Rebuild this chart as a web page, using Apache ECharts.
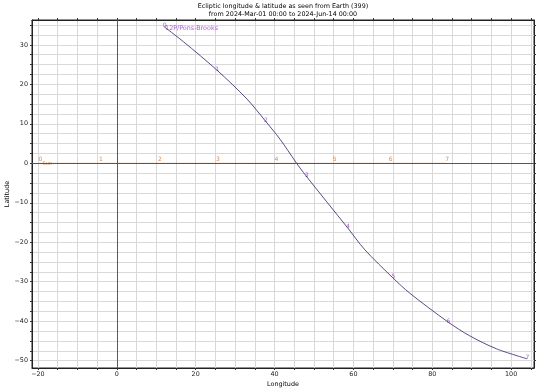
<!DOCTYPE html>
<html>
<head>
<meta charset="utf-8">
<script src="https://cdn.jsdelivr.net/npm/echarts@6/dist/echarts.min.js"></script>
<style>html,body{margin:0;padding:0;background:#fff}#c{width:540px;height:391px}</style>
</head>
<body>
<div id="c"></div>
<script>
// Comet 12P/Pons-Brooks path: [longitude, latitude]
const cometPath = [
  [12.0, 34.6], [16.9, 30.8], [25.4, 23.6], [33.0, 16.3], [37.7, 10.7],
  [41.4, 6.1], [45.4, 0.3], [48.0, -3.2], [58.5, -16.3], [62.9, -21.9],
  [70.0, -29.0], [74.3, -32.9], [84.0, -40.2], [89.5, -43.7], [96.3, -47.0],
  [104.0, -49.5]
];
// Labelled (every 15 days) comet positions: [longitude, latitude, label]
const cometMarks = [
  [12.0, 34.6, '0'], [25.4, 23.6, '1'], [37.7, 10.7, '2'], [48.0, -3.2, '3'],
  [58.5, -16.3, '4'], [70.0, -29.0, '5'], [84.0, -40.2, '6'], [104.0, -49.5, '7']
];
// Sun longitudes at the same dates (latitude 0)
const sunLon = [-19.6, -4.3, 10.7, 25.4, 40.2, 55.0, 69.2, 83.5];
const sunLabels = ['0', '1', '2', '3', '4', '5', '6', '7'];
// Axis ticks
const xMajor = [-20, 0, 20, 40, 60, 80, 100];
const xMinor = [-20, -15, -10, -5, 0, 5, 10, 15, 20, 25, 30, 35, 40, 45, 50, 55, 60, 65, 70, 75, 80, 85, 90, 95, 100, 105];
const yMajor = [-50, -40, -30, -20, -10, 0, 10, 20, 30];
const yMinor = [-50, -47.5, -45, -42.5, -40, -37.5, -35, -32.5, -30, -27.5, -25, -22.5, -20, -17.5, -15, -12.5, -10, -7.5, -5, -2.5, 0, 2.5, 5, 7.5, 10, 12.5, 15, 17.5, 20, 22.5, 25, 27.5, 30, 32.5, 35];

const FONT = 'DejaVu Sans';
const FS = 6.4;
const chart = echarts.init(document.getElementById('c'));
const sunData = sunLon.map((v, i) => [v, 0, sunLabels[i]]);
const XR = [-21.5, 105.8], YR = [-51.85, 36.3];
const minus = v => String(v).replace('-', '\u2212');

function sideAxis(pos, min, max, ticks) {
  return {
    type: 'value', position: pos, min: min, max: max,
    axisLine: {show: true, onZero: false, lineStyle: {color: '#222'}},
    axisTick: {show: true, length: 2, customValues: ticks, lineStyle: {color: '#333'}},
    axisLabel: {show: false}, splitLine: {show: false}
  };
}

chart.setOption({
  animation: false,
  textStyle: {fontFamily: FONT},
  title: {
    text: 'Ecliptic longitude & latitude as seen from Earth (399)\nfrom 2024-Mar-01 00:00 to 2024-Jun-14 00:00',
    left: 283, top: 2, padding: 0, textAlign: 'center',
    textStyle: {fontFamily: FONT, fontSize: FS, fontWeight: 'normal', color: '#000', lineHeight: 8}
  },
  grid: {left: 32, right: 6, top: 20, bottom: 23, outerBoundsMode: 'none', containLabel: false,
    show: true, borderColor: '#222', borderWidth: 1, backgroundColor: 'transparent'},
  xAxis: [{
    type: 'value', min: XR[0], max: XR[1],
    name: 'Longitude', nameLocation: 'middle', nameGap: 13, nameMoveOverlap: false,
    nameTextStyle: {fontFamily: FONT, fontSize: FS, color: '#000'},
    axisLine: {show: true, onZero: false, lineStyle: {color: '#222'}},
    axisTick: {show: true, length: 2, customValues: xMinor, lineStyle: {color: '#333'}},
    axisLabel: {customValues: xMajor, formatter: minus, fontSize: FS, color: '#222', margin: 3, fontFamily: FONT},
    splitLine: {show: true, lineStyle: {color: '#d9d9d9', width: 1}}
  }, sideAxis('top', XR[0], XR[1], xMinor)],
  yAxis: [{
    type: 'value', min: YR[0], max: YR[1],
    name: 'Latitude', nameLocation: 'middle', nameGap: 22, nameRotate: 90, nameMoveOverlap: false,
    nameTextStyle: {fontFamily: FONT, fontSize: FS, color: '#000'},
    axisLine: {show: true, onZero: false, lineStyle: {color: '#222'}},
    axisTick: {show: true, length: 2, customValues: yMinor, lineStyle: {color: '#333'}},
    axisLabel: {customValues: yMajor, formatter: minus, fontSize: FS, color: '#222', margin: 4, fontFamily: FONT},
    splitLine: {show: true, lineStyle: {color: '#d9d9d9', width: 1}}
  }, sideAxis('right', YR[0], YR[1], yMinor)],
  series: [
    {
      type: 'line', data: [], silent: true,
      markLine: {
        symbol: 'none', silent: true, label: {show: false},
        data: [
          {xAxis: 0, lineStyle: {color: '#5a5a5a', width: 1, type: 'solid'}},
          {yAxis: 0, lineStyle: {color: '#6b5048', width: 1.2, type: 'solid'}}
        ]
      }
    },
    {
      name: 'Sun', type: 'line', data: sunData, showSymbol: false, silent: true,
      lineStyle: {color: 'rgba(190,100,50,0.45)', width: 1}
    },
    {
      name: 'Sun labels', type: 'scatter', data: sunData, symbolSize: 0, silent: true,
      label: {
        show: true, position: 'inside', offset: [1, -3.5],
        formatter: p => p.data[2], color: '#d2691e', fontSize: 6, fontFamily: FONT
      }
    },
    {
      type: 'scatter', data: [[sunLon[0], 0, 'Sun']], symbolSize: 0, silent: true,
      label: {show: true, position: 'right', offset: [0, 0.5], distance: 3,
        formatter: p => p.data[2], color: '#d2691e', fontSize: 5, fontFamily: FONT}
    },
    {
      name: '12P/Pons-Brooks', type: 'line', data: cometPath, smooth: 0.3,
      showSymbol: false, silent: true,
      lineStyle: {color: '#4a3578', width: 0.9}
    },
    {
      type: 'scatter', data: cometMarks, symbolSize: 0, silent: true,
      label: {show: true, position: 'inside', offset: [0.5, -1],
        formatter: p => p.data[2], color: '#9932cc', fontSize: 6, fontFamily: FONT}
    },
    {
      type: 'scatter', data: [[cometMarks[0][0], cometMarks[0][1], '12P/Pons-Brooks']], symbolSize: 0, silent: true,
      label: {show: true, position: 'right', distance: 1, offset: [0, 1.5],
        formatter: p => p.data[2], color: '#9932cc', fontSize: FS, fontFamily: FONT}
    }
  ]
});
</script>
</body>
</html>
